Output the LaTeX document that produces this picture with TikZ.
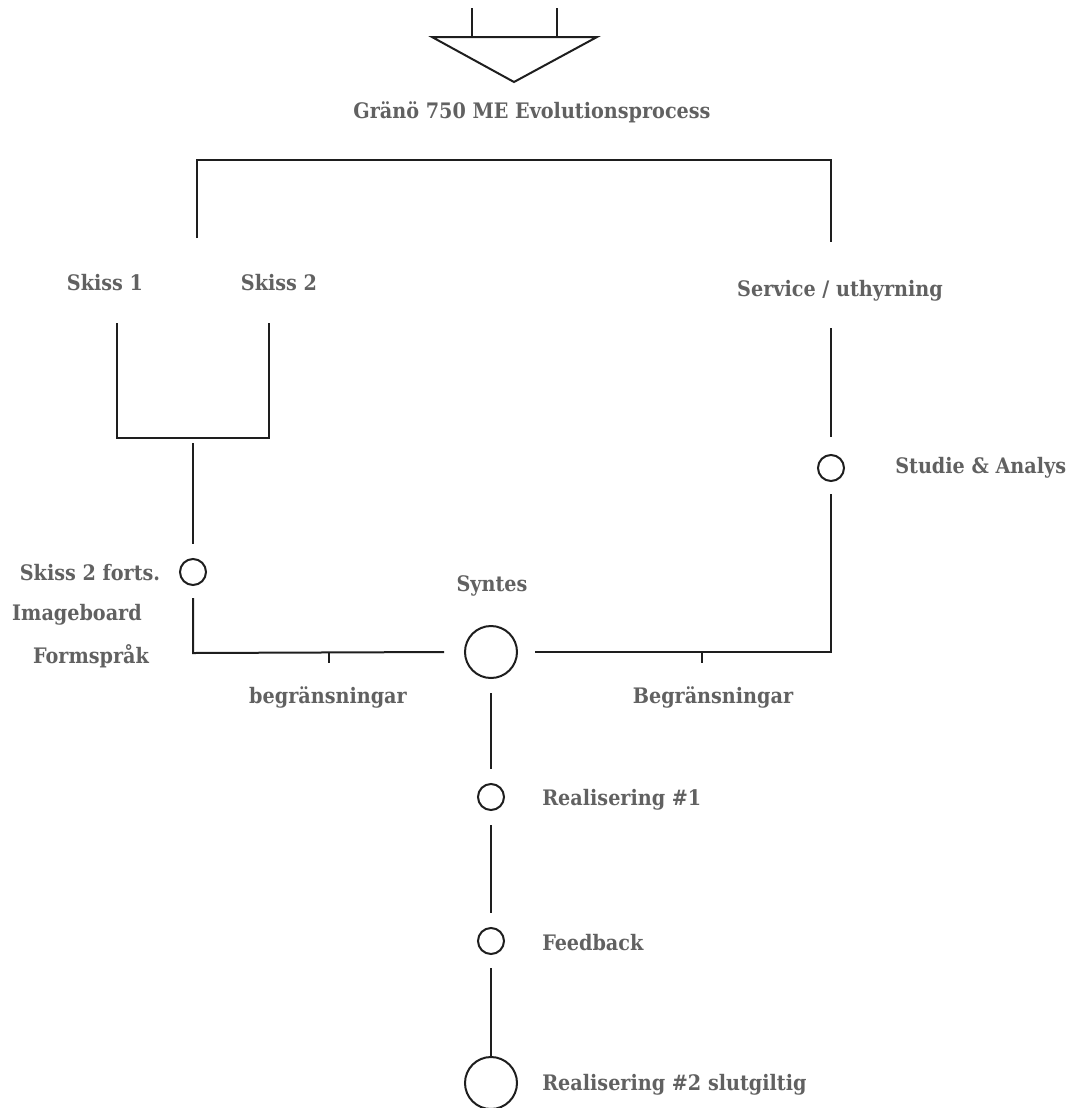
\documentclass[tikz,border=0pt]{standalone}
\usepackage{fontspec}
\setmainfont{DejaVu Serif Condensed}
\usetikzlibrary{calc}
\definecolor{txt}{HTML}{616161}
\definecolor{ln}{HTML}{1E1E1E}
\begin{document}
\begin{tikzpicture}[x=0.75pt,y=-0.75pt,
 lbl/.style={text=txt,font=\bfseries\fontsize{16}{19}\selectfont,inner sep=0pt},
 wire/.style={draw=ln,line width=1.5pt},
 dot/.style={circle,draw=ln,line width=1.5pt,minimum size=19.5pt,inner sep=0pt},
 bigdot/.style={circle,draw=ln,line width=1.5pt,minimum size=39pt,inner sep=0pt},
 gap/.style={shorten <=10.5pt,shorten >=10.5pt}]
\useasboundingbox (0,0) rectangle (1068,1108);
% top funnel
\coordinate (fL) at (432,37);
\coordinate (fR) at (597,37);
\coordinate (fB) at (514,82);
\coordinate (v1t) at (472,8);
\coordinate (v1b) at (472,37);
\coordinate (v2t) at (557,8);
\coordinate (v2b) at (557,37);
\draw[wire,line join=miter] (fL) -- (fR) -- (fB) -- cycle;
\draw[wire] (v1t) -- (v1b);
\draw[wire] (v2t) -- (v2b);
\node[lbl] (title) at (532,112) {Gränö 750 ME Evolutionsprocess};
% main bracket
\coordinate (b1) at (197,238);
\coordinate (b2) at (197,160);
\coordinate (b3) at (831,160);
\coordinate (b4) at (831,242);
\draw[wire] (b1) -- (b2) -- (b3) -- (b4);
\node[lbl] (s1) at (105,283) {Skiss 1};
\node[lbl] (s2) at (279,283) {Skiss 2};
\node[lbl] (svc) at (840,291) {Service / uthyrning};
% skiss bracket
\coordinate (k1) at (117,323);
\coordinate (k2) at (117,438);
\coordinate (k3) at (269,438);
\coordinate (k4) at (269,323);
\draw[wire] (k1) -- (k2) -- (k3) -- (k4);
\coordinate (st) at (193,443);
% nodes
\node[dot] (d1) at (193,572) {};
\node[bigdot] (syn) at (491,652) {};
\node[dot] (d2) at (831,468) {};
\node[dot] (d3) at (491,797) {};
\node[dot] (d4) at (491,941) {};
\node[bigdot] (d5) at (491,1083) {};
% left branch
\draw[wire,shorten >=10.5pt] (st) -- (d1);
\coordinate (cL) at (193,653);
\coordinate (tL) at (329,653);
\coordinate (tLb) at (329,663);
\draw[wire] ($(d1.south)+(0,12)$) -- (cL) -- ($(syn.west)+(-20,0)$);
\draw[wire] (tL) -- (tLb);
% right branch
\coordinate (cR) at (831,652);
\coordinate (tR) at (702,652);
\coordinate (tRb) at (702,663);
\draw[wire] ($(syn.east)+(17,0)$) -- (cR) -- ($(d2.south)+(0,12)$);
\draw[wire] (tR) -- (tRb);
\coordinate (rt) at (831,328);
\draw[wire,shorten <=13pt] (d2) -- (rt);
% center column
\draw[wire,gap] (syn) -- (d3);
\draw[wire,gap] (d3) -- (d4);
\draw[wire,shorten <=10pt] (d4) -- (d5);
% labels
\node[lbl] (l1) at (90,573) {Skiss 2 forts.};
\node[lbl] (l2) at (77,615) {Imageboard};
\node[lbl] (l3) at (91,656) {Formspråk};
\node[lbl] (lsyn) at (492,586) {Syntes};
\node[lbl] (lb1) at (328,697) {begränsningar};
\node[lbl] (lb2) at (713,697) {Begränsningar};
\node[lbl,anchor=west] (lst) at (895,468) {Studie \& Analys};
\node[lbl,anchor=west] (lr1) at (542,800) {Realisering \#1};
\node[lbl,anchor=west] (lfb) at (542,943) {Feedback};
\node[lbl,anchor=west] (lr2) at (542,1085) {Realisering \#2 slutgiltig};
\end{tikzpicture}
\end{document}
